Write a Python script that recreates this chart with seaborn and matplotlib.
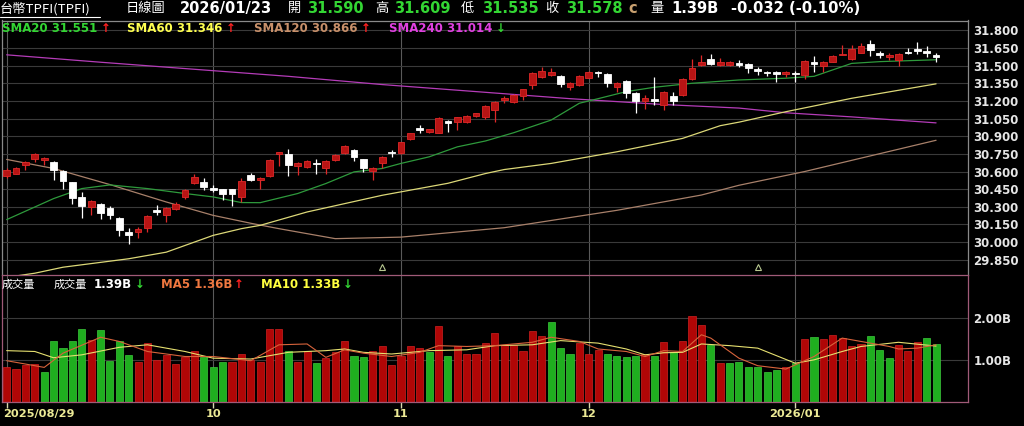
import numpy as np
import pandas as pd
import matplotlib
matplotlib.use('Agg')
from matplotlib import pyplot as plt
from matplotlib.lines import Line2D
from matplotlib import transforms
import seaborn as sns


# Daily candles, 2025/08/29 .. 2026/01/23 (100 trading days).
opens = [30.563, 30.583, 30.654, 30.703, 30.697, 30.682, 30.603, 30.507, 30.384, 30.298,
         30.321, 30.293, 30.208, 30.085, 30.085, 30.119, 30.270, 30.227, 30.285, 30.384,
         30.503, 30.512, 30.464, 30.449, 30.449, 30.384, 30.569, 30.526, 30.563, 30.745,
         30.748, 30.646, 30.640, 30.674, 30.626, 30.697, 30.759, 30.782, 30.703, 30.603,
         30.674, 30.762, 30.759, 30.873, 30.967, 30.938, 30.930, 31.030, 31.018, 31.018,
         31.072, 31.061, 31.123, 31.209, 31.189, 31.245, 31.337, 31.408, 31.422, 31.413,
         31.317, 31.337, 31.399, 31.445, 31.430, 31.322, 31.373, 31.266, 31.203, 31.215,
         31.166, 31.245, 31.251, 31.387, 31.507, 31.556, 31.507, 31.507, 31.522, 31.513,
         31.473, 31.450, 31.445, 31.428, 31.433, 31.422, 31.535, 31.501, 31.535, 31.593,
         31.556, 31.612, 31.687, 31.607, 31.578, 31.550, 31.621, 31.641, 31.627, 31.590]
highs = [30.629, 30.640, 30.690, 30.754, 30.722, 30.692, 30.610, 30.515, 30.426, 30.356,
         30.330, 30.304, 30.215, 30.122, 30.125, 30.230, 30.313, 30.300, 30.341, 30.450,
         30.575, 30.541, 30.483, 30.455, 30.455, 30.543, 30.588, 30.555, 30.705, 30.770,
         30.788, 30.680, 30.698, 30.703, 30.698, 30.745, 30.825, 30.790, 30.710, 30.638,
         30.728, 30.782, 30.855, 30.930, 30.995, 30.965, 31.060, 31.037, 31.068, 31.082,
         31.100, 31.166, 31.200, 31.243, 31.258, 31.306, 31.443, 31.493, 31.479, 31.420,
         31.362, 31.420, 31.455, 31.459, 31.437, 31.358, 31.380, 31.273, 31.251, 31.408,
         31.282, 31.280, 31.395, 31.556, 31.593, 31.601, 31.564, 31.540, 31.550, 31.520,
         31.493, 31.459, 31.452, 31.452, 31.459, 31.550, 31.584, 31.537, 31.590, 31.678,
         31.678, 31.692, 31.715, 31.629, 31.612, 31.607, 31.650, 31.698, 31.670, 31.609]
lows = [30.543, 30.575, 30.617, 30.682, 30.654, 30.532, 30.455, 30.321, 30.208, 30.227,
        30.199, 30.199, 30.048, 29.980, 30.037, 30.085, 30.227, 30.170, 30.270, 30.364,
        30.495, 30.447, 30.426, 30.356, 30.304, 30.341, 30.518, 30.455, 30.555, 30.646,
        30.560, 30.569, 30.632, 30.583, 30.583, 30.690, 30.752, 30.688, 30.597, 30.526,
        30.631, 30.720, 30.752, 30.866, 30.930, 30.932, 30.925, 30.938, 30.953, 31.010,
        31.066, 31.050, 31.024, 31.181, 31.182, 31.209, 31.303, 31.400, 31.413, 31.317,
        31.294, 31.330, 31.392, 31.408, 31.317, 31.280, 31.228, 31.100, 31.132, 31.166,
        31.123, 31.166, 31.245, 31.380, 31.500, 31.510, 31.500, 31.500, 31.493, 31.442,
        31.422, 31.413, 31.365, 31.408, 31.365, 31.385, 31.450, 31.450, 31.528, 31.590,
        31.550, 31.605, 31.584, 31.564, 31.550, 31.499, 31.601, 31.601, 31.578, 31.535]
closes = [30.611, 30.631, 30.682, 30.745, 30.711, 30.617, 30.520, 30.379, 30.307, 30.347,
          30.247, 30.227, 30.100, 30.063, 30.114, 30.221, 30.253, 30.293, 30.327, 30.441,
          30.554, 30.469, 30.447, 30.413, 30.413, 30.520, 30.526, 30.549, 30.697, 30.762,
          30.654, 30.674, 30.691, 30.663, 30.691, 30.739, 30.819, 30.720, 30.629, 30.631,
          30.720, 30.754, 30.848, 30.924, 30.953, 30.959, 31.053, 31.010, 31.061, 31.075,
          31.095, 31.160, 31.194, 31.223, 31.251, 31.300, 31.436, 31.459, 31.448, 31.345,
          31.356, 31.413, 31.448, 31.436, 31.351, 31.351, 31.266, 31.203, 31.228, 31.203,
          31.274, 31.203, 31.387, 31.479, 31.535, 31.516, 31.533, 31.530, 31.510, 31.484,
          31.456, 31.442, 31.430, 31.445, 31.428, 31.544, 31.516, 31.530, 31.584, 31.601,
          31.641, 31.664, 31.635, 31.593, 31.593, 31.601, 31.607, 31.629, 31.610, 31.578]

# Volume in billions, and whether the bar is drawn red (up) or green (down).
volume = [0.84, 0.78, 0.88, 0.90, 0.70, 1.44, 1.28, 1.46, 1.74, 1.48,
          1.72, 0.98, 1.46, 1.12, 0.94, 1.41, 1.00, 1.11, 0.90, 1.08,
          1.21, 1.06, 0.82, 0.95, 0.96, 1.14, 1.00, 0.96, 1.74, 1.73,
          1.20, 0.96, 1.20, 0.92, 1.04, 1.19, 1.44, 1.10, 1.06, 1.22,
          1.34, 0.88, 1.10, 1.34, 1.28, 1.18, 1.82, 1.10, 1.32, 1.14,
          1.14, 1.40, 1.65, 1.36, 1.36, 1.22, 1.68, 1.58, 1.90, 1.28,
          1.14, 1.40, 1.14, 1.24, 1.14, 1.10, 1.06, 1.10, 1.14, 1.10,
          1.42, 1.18, 1.46, 2.06, 1.84, 1.36, 0.92, 0.92, 0.96, 0.84,
          0.84, 0.72, 0.76, 0.84, 0.92, 1.50, 1.54, 1.50, 1.60, 1.52,
          1.34, 1.38, 1.56, 1.24, 1.04, 1.36, 1.20, 1.42, 1.52, 1.39]
vol_up = [1, 1, 1, 1, 0, 0, 0, 0, 0, 1,
          0, 0, 0, 0, 1, 1, 1, 1, 1, 1,
          1, 0, 0, 0, 1, 1, 1, 1, 1, 1,
          0, 1, 1, 0, 1, 1, 1, 0, 0, 1,
          1, 1, 1, 1, 1, 0, 1, 0, 1, 1,
          1, 1, 1, 1, 1, 1, 1, 1, 0, 0,
          0, 1, 1, 1, 0, 0, 0, 0, 1, 0,
          1, 0, 1, 1, 1, 0, 1, 0, 0, 0,
          0, 0, 0, 1, 0, 1, 0, 1, 1, 1,
          1, 1, 0, 0, 0, 1, 1, 1, 0, 0]

# Moving averages (bar index, value).
sma20_idx = [0, 5, 8, 11, 15, 19, 22, 25, 27, 31, 34, 37, 40, 42, 45, 48, 51, 54, 58, 61,
             63, 66, 69, 73, 78, 83, 86, 90, 93, 99]
sma20_val = [30.191, 30.370, 30.455, 30.486, 30.455, 30.413, 30.384, 30.336, 30.335, 30.413,
             30.498, 30.597, 30.626, 30.669, 30.725, 30.810, 30.860, 30.930, 31.038, 31.181,
             31.220, 31.280, 31.317, 31.351, 31.379, 31.394, 31.410, 31.520, 31.535, 31.551]
sma60_idx = [0, 3, 6, 13, 17, 22, 25, 27, 32, 40, 47, 51, 53, 58, 65, 72, 76, 78, 83, 90, 99]
sma60_val = [29.700, 29.735, 29.786, 29.858, 29.914, 30.057, 30.114, 30.142, 30.256, 30.398,
             30.500, 30.583, 30.617, 30.669, 30.768, 30.882, 30.990, 31.020, 31.109, 31.223,
             31.346]
sma120_idx = [0, 5, 11, 17, 22, 26, 29, 35, 42, 53, 65, 74, 78, 85, 99]
sma120_val = [30.703, 30.626, 30.489, 30.341, 30.227, 30.160, 30.114, 30.029, 30.042, 30.122,
              30.270, 30.400, 30.483, 30.600, 30.866]
sma240_idx = [0, 10, 20, 30, 40, 50, 60, 70, 78, 83, 90, 99]
sma240_val = [31.593, 31.530, 31.470, 31.410, 31.340, 31.280, 31.220, 31.170, 31.140, 31.100,
              31.065, 31.014]

ma5_idx = [0, 4, 6, 10, 12, 15, 19, 22, 26, 29, 32, 34, 36, 38, 41, 44, 46, 49, 52, 56,
           58, 61, 63, 66, 68, 70, 72, 74, 75, 78, 80, 83, 86, 89, 91, 94, 95, 97, 99]
ma5_val = [0.98, 0.82, 1.16, 1.54, 1.44, 1.20, 1.08, 1.08, 0.98, 1.36, 1.38, 1.06, 1.24,
           1.16, 1.08, 1.18, 1.34, 1.32, 1.34, 1.42, 1.54, 1.44, 1.26, 1.20, 1.08, 1.22,
           1.20, 1.60, 1.52, 1.04, 0.86, 0.78, 1.08, 1.52, 1.44, 1.32, 1.26, 1.28, 1.36]
ma10_idx = [0, 3, 5, 8, 12, 15, 19, 22, 26, 30, 34, 36, 38, 41, 45, 49, 52, 56, 59, 63,
            66, 68, 70, 72, 74, 77, 80, 84, 86, 89, 91, 95, 99]
ma10_val = [1.22, 1.20, 1.05, 1.12, 1.30, 1.36, 1.20, 1.04, 1.02, 1.18, 1.22, 1.26, 1.18,
            1.14, 1.22, 1.24, 1.34, 1.36, 1.46, 1.40, 1.26, 1.12, 1.17, 1.18, 1.38, 1.34,
            1.28, 0.92, 1.00, 1.20, 1.32, 1.42, 1.33]

month_idx = [0, 22, 42, 62, 84]
month_labels = ['2025/08/29', '10', '11', '12', '2026/01']
price_ticks = [29.85, 30.00, 30.15, 30.30, 30.45, 30.60, 30.75, 30.90,
               31.05, 31.20, 31.35, 31.50, 31.65, 31.80]
vol_ticks = [1.0, 2.0]
event_idx = [40, 80]

# Colours.
RED = '#b81414'
RED_EDGE = '#e02828'
GREEN_TXT = '#33d633'
VOL_RED = '#b00606'
VOL_GREEN = '#1fae1f'

sns.set_theme(style='dark', rc={'axes.facecolor': 'black', 'figure.facecolor': 'black',
                                'savefig.facecolor': 'black'})
plt.rcParams['font.family'] = ['DejaVu Sans', 'Noto Sans CJK TC']

W, H = 1024, 426
fig = plt.figure(figsize=(W / 100, H / 100), dpi=100)


def fx(x):
    return x / W


def fy(y):
    return 1 - y / H


ax = fig.add_axes([fx(1.5), fy(274.5), fx(968) - fx(1.5), fy(20.5) - fy(274.5)])
axv = fig.add_axes([fx(1.5), fy(401.7), fx(968) - fx(1.5), fy(274.5) - fy(401.7)], sharex=ax)

df = pd.DataFrame({'open': opens, 'high': highs, 'low': lows, 'close': closes})
df['i'] = np.arange(len(df))
up = df['close'] >= df['open']
dn = ~up
body_lo = df[['open', 'close']].min(axis=1)
body_h = np.maximum((df['close'] - df['open']).abs(), 0.007)

# Candles: wicks then bodies.
ax.vlines(df['i'][up], df['low'][up], df['high'][up], color=RED_EDGE, lw=0.9, zorder=3)
ax.vlines(df['i'][dn], df['low'][dn], df['high'][dn], color='white', lw=0.9, zorder=3)
ax.bar(df['i'][up], body_h[up], bottom=body_lo[up], width=0.72, color=RED,
       edgecolor=RED_EDGE, linewidth=0.6, zorder=4)
ax.bar(df['i'][dn], body_h[dn], bottom=body_lo[dn], width=0.72, color='white',
       edgecolor='white', linewidth=0.6, zorder=4)

# Moving averages.
sns.lineplot(x=sma240_idx, y=sma240_val, ax=ax, color='#b43cb8', lw=0.9, zorder=2)
sns.lineplot(x=sma120_idx, y=sma120_val, ax=ax, color='#a8806a', lw=0.9, zorder=2)
sns.lineplot(x=sma60_idx, y=sma60_val, ax=ax, color='#dcd878', lw=0.9, zorder=2)
sns.lineplot(x=sma20_idx, y=sma20_val, ax=ax, color='#2e9a3c', lw=0.9, zorder=2)

# Small event markers at the bottom of the price panel.
trans = transforms.blended_transform_factory(ax.transData, ax.transAxes)
ax.plot(event_idx, [0.03] * len(event_idx), ls='none', marker='^', ms=5, mfc='none',
        mec='#b8c890', mew=0.8, transform=trans, zorder=5)

ax.set_xlim(-0.55, 102.4)
ax.set_ylim(29.724, 31.885)
ax.set_yticks(price_ticks)
ax.set_yticklabels([f'{p:.3f}' for p in price_ticks])
ax.yaxis.tick_right()
ax.tick_params(axis='y', length=0, pad=4, labelsize=8.5, labelcolor='#e6e6e6')
ax.tick_params(axis='x', length=0, labelbottom=False)
ax.set_xticks(month_idx)
ax.grid(axis='y', color='#3a3a3a', lw=0.8)
ax.grid(axis='x', color='#5a5a5a', lw=0.8)
for lbl in ax.get_yticklabels():
    lbl.set_fontweight('bold')
for side in ['top', 'left', 'right']:
    ax.spines[side].set_color('#8a8a8a')
    ax.spines[side].set_linewidth(0.9)
ax.spines['bottom'].set_visible(False)
ax.set_xlabel('')
ax.set_ylabel('')

# Volume panel.
vcol = [VOL_RED if u else VOL_GREEN for u in vol_up]
vedge = ['#d02020' if u else '#3cc83c' for u in vol_up]
axv.bar(df['i'], volume, width=0.76, color=vcol, edgecolor=vedge, linewidth=0.5, zorder=2)
sns.lineplot(x=ma10_idx, y=ma10_val, ax=axv, color='#e6e070', lw=0.8, zorder=3)
sns.lineplot(x=ma5_idx, y=ma5_val, ax=axv, color='#d8643c', lw=0.8, zorder=3)
axv.set_ylim(0, 3.04)
axv.set_yticks(vol_ticks)
axv.set_yticklabels([f'{v:.2f}B' for v in vol_ticks])
axv.yaxis.tick_right()
axv.tick_params(axis='y', length=0, pad=4, labelsize=8.5, labelcolor='#e6e6e6')
axv.set_xticks(month_idx)
axv.set_xticklabels(month_labels)
axv.tick_params(axis='x', length=4, width=1, color='#d8d8b0', pad=1.5, labelsize=8.2,
                labelcolor='#ecea96', bottom=True)
for lbl in axv.get_yticklabels() + axv.get_xticklabels():
    lbl.set_fontweight('bold')
first = axv.get_xticklabels()[0]
first.set_ha('left')
first.set_transform(first.get_transform() +
                    transforms.ScaledTranslation(-4 / 100, 0, fig.dpi_scale_trans))
axv.grid(axis='y', color='#3a3a3a', lw=0.8)
axv.grid(axis='x', color='#5a5a5a', lw=0.8)
for side in axv.spines:
    axv.spines[side].set_color('#a05a78')
    axv.spines[side].set_linewidth(0.9)
axv.set_xlabel('')
axv.set_ylabel('')

# Header row.
CJK = ['Noto Sans CJK TC']


def put(x, y, s, color='white', size=10.5, bold=True, family=None):
    kw = dict(color=color, fontsize=size, va='center', ha='left',
              fontweight='bold' if bold else 'normal')
    if family:
        kw['family'] = family
    fig.text(fx(x), fy(y), s, **kw)


put(0, 8.5, '台幣TPFI(TPFI)', size=9.5, bold=False, family=CJK)
fig.add_artist(Line2D([fx(0), fx(100)], [fy(17), fy(17)], color='white', lw=0.8))
put(126, 8.5, '日線圖', size=9.5, bold=False, family=CJK)
put(180, 8.5, '2026/01/23')
put(288, 8.5, '開', size=9.5, bold=False, family=CJK)
put(307, 8.5, '31.590', color=GREEN_TXT)
put(375, 8.5, '高', size=9.5, bold=False, family=CJK)
put(394, 8.5, '31.609', color=GREEN_TXT)
put(461, 8.5, '低', size=9.5, bold=False, family=CJK)
put(482, 8.5, '31.535', color=GREEN_TXT)
put(545, 8.5, '收', size=9.5, bold=False, family=CJK)
put(566, 8.5, '31.578', color=GREEN_TXT)
put(628, 8.5, 'c', color='#c8a070')
put(650, 8.5, '量', size=9.5, bold=False, family=CJK)
put(671, 8.5, '1.39B')
put(731, 8.5, '-0.032 (-0.10%)', size=10.7)

# Price legend row.
put(2, 28, 'SMA20 31.551', color=GREEN_TXT, size=8.5)
put(101, 28, '↑', color='#ff2020', size=8.5)
put(127, 28, 'SMA60 31.346', color='#ffff50', size=8.5)
put(226, 28, '↑', color='#ff2020', size=8.5)
put(254, 28, 'SMA120 30.866', color='#c8906a', size=8.5)
put(361, 28, '↑', color='#ff2020', size=8.5)
put(389, 28, 'SMA240 31.014', color='#e040e0', size=8.5)
put(496, 28, '↓', color=GREEN_TXT, size=8.5)

# Volume legend row.
put(2, 285, '成交量', size=8, bold=False, family=CJK)
put(54, 285, '成交量', size=8, bold=False, family=CJK)
put(94, 285, '1.39B', size=8.5)
put(135, 285, '↓', color=GREEN_TXT, size=8.5)
put(161, 285, 'MA5 1.36B', color='#f07840', size=8.5)
put(234, 285, '↑', color='#ff2020', size=8.5)
put(261, 285, 'MA10 1.33B', color='#ffff40', size=8.5)
put(343, 285, '↓', color=GREEN_TXT, size=8.5)

fig.savefig('out.png', dpi=100, facecolor='black')
